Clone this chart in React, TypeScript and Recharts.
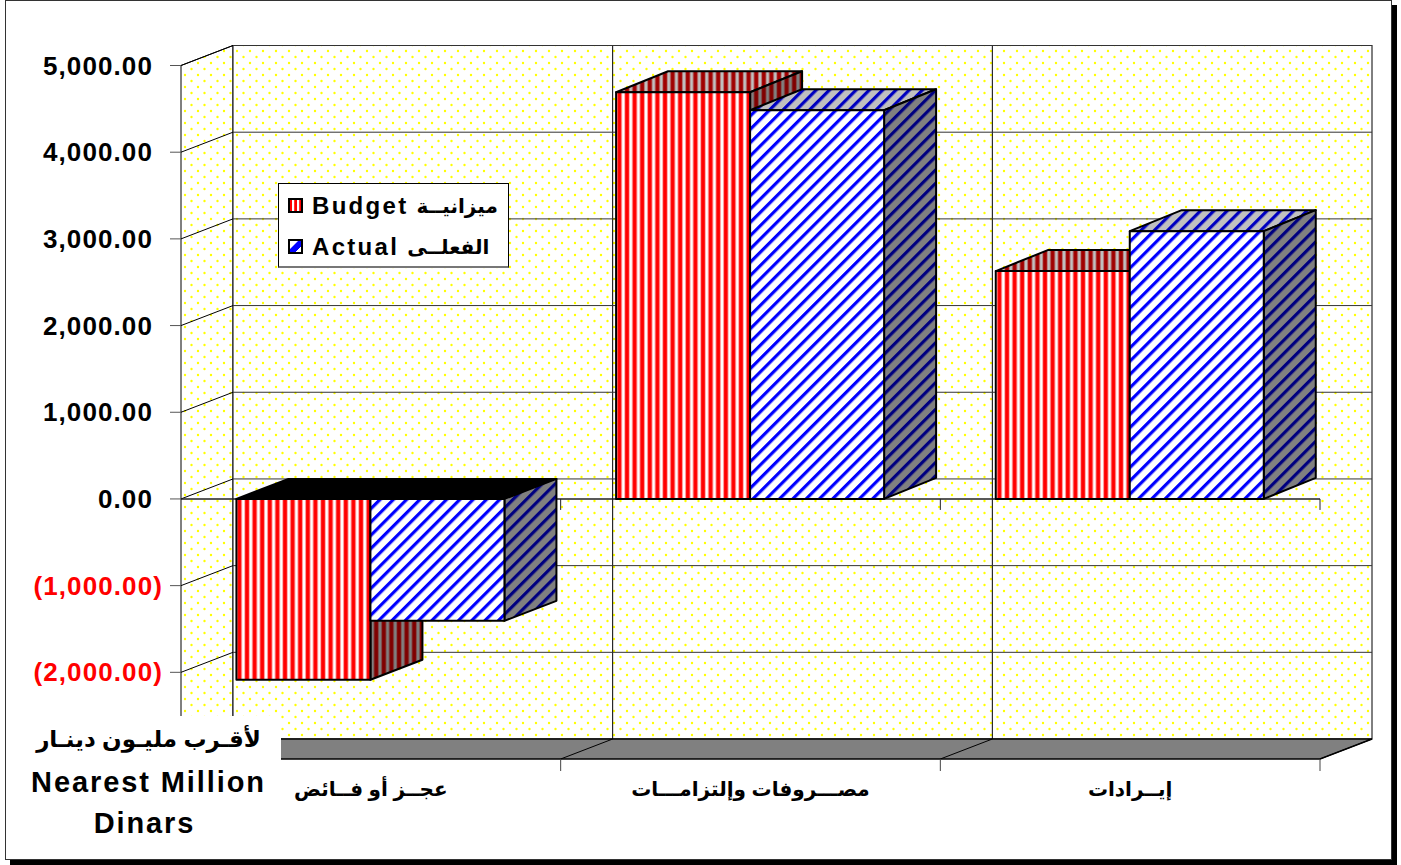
import React from 'react';
import { BarChart, Bar, XAxis, YAxis, Legend, ReferenceArea, ReferenceLine } from 'recharts';

const categories = ['عجــز أو فــائض', 'مصـــروفات وإلتزامـــات', 'إيــرادات'];
const budgetValues = [-2086, 4692, 2628];
const actualValues = [-1406, 4484, 3089];
const yTicks = [-2000, -1000, 0, 1000, 2000, 3000, 4000, 5000];
const budgetName = 'Budget ميزانيــة';
const actualName = 'Actual الفعلــى';
const seriesOrder = [budgetName, actualName];

const tableData = categories.map((name, i) => ({
  name,
  budget: budgetValues[i],
  actual: actualValues[i],
}));

const DEPTH_X = 52;
const DEPTH_Y = 20;
const BAR_DEPTH_Y = 21;
const FONT = '"Liberation Sans", "DejaVu Sans", Arial, sans-serif';

const formatTick = (value: number) => {
  const text = Math.abs(value).toLocaleString('en-US', {
    minimumFractionDigits: 2,
    maximumFractionDigits: 2,
  });
  return value < 0 ? `(${text})` : text;
};

// Walls, floor and the vertical lines, built from the plot area
const Backdrop = ({ x, y, width, height }: any) => {
  const bottom = y + height;
  const step = width / categories.length;
  const edges = [0, 1, 2, 3].map((i) => x + step * i);
  return (
    <g>
      <polygon
        points={`${x},${y} ${x + DEPTH_X},${y - DEPTH_Y} ${x + DEPTH_X},${bottom - DEPTH_Y} ${x},${bottom}`}
        fill="url(#wallDots)"
        stroke="#000"
      />
      <rect x={x + DEPTH_X} y={y - DEPTH_Y} width={width} height={height} fill="url(#wallDots)" stroke="#000" />
      {edges.slice(1, 3).map((edge) => (
        <line key={edge} x1={edge + DEPTH_X} x2={edge + DEPTH_X} y1={y - DEPTH_Y} y2={bottom - DEPTH_Y} stroke="#000" />
      ))}
      <polygon
        points={`${x},${bottom} ${x + DEPTH_X},${bottom - DEPTH_Y} ${x + width + DEPTH_X},${bottom - DEPTH_Y} ${x + width},${bottom}`}
        fill="#808080"
        stroke="#000"
        strokeWidth={1.5}
      />
      {edges.map((edge) => (
        <g key={edge}>
          <line x1={edge} x2={edge + DEPTH_X} y1={bottom} y2={bottom - DEPTH_Y} stroke="#000" />
          <line x1={edge} x2={edge} y1={bottom} y2={bottom + 12} stroke="#444" />
        </g>
      ))}
    </g>
  );
};

const GridLine = ({ x1, x2, y1 }: any) => {
  const isZero = Math.abs(y1 - 499) < 2;
  return (
    <g>
      <line x1={x1} x2={x1 + DEPTH_X} y1={y1} y2={y1 - DEPTH_Y} stroke="#000" />
      <line x1={x1 + DEPTH_X} x2={x2 + DEPTH_X} y1={y1 - DEPTH_Y} y2={y1 - DEPTH_Y} stroke="#333" />
      {isZero && (
        <g>
          <line x1={x1} x2={x2} y1={y1} y2={y1} stroke="#222" strokeWidth={1.5} />
          {[1, 2, 3].map((i) => {
            const tx = x1 + ((x2 - x1) * i) / categories.length;
            return <line key={i} x1={tx} x2={tx} y1={y1} y2={y1 + 11} stroke="#222" />;
          })}
        </g>
      )}
    </g>
  );
};

const makeBox = (prefix: string) => (props: any) => {
  const { x, y, width, height, value } = props;
  const top = Math.min(y, y + height);
  const h = Math.abs(height);
  const v = Array.isArray(value) ? value[1] : value;
  const negative = v < 0;
  const dy = negative ? DEPTH_Y : BAR_DEPTH_Y;
  return (
    <g stroke="#000" strokeWidth={2} strokeLinejoin="round">
      <polygon
        points={`${x},${top} ${x + DEPTH_X},${top - dy} ${x + width + DEPTH_X},${top - dy} ${x + width},${top}`}
        fill={negative ? '#000' : `url(#${prefix}Top)`}
      />
      <polygon
        points={`${x + width},${top} ${x + width + DEPTH_X},${top - dy} ${x + width + DEPTH_X},${top + h - dy} ${x + width},${top + h}`}
        fill={`url(#${prefix}Side)`}
      />
      <rect x={x} y={top} width={width} height={h} fill={`url(#${prefix}Front)`} />
    </g>
  );
};

const BudgetBox = makeBox('budget');
const ActualBox = makeBox('actual');

const YTick = ({ y, payload }: any) => (
  <text
    x={payload.value < 0 ? 163 : 153}
    y={y}
    dy={9}
    textAnchor="end"
    fontFamily={FONT}
    fontWeight="bold"
    fontSize={26}
    letterSpacing={1.1}
    fill={payload.value < 0 ? '#ff0000' : '#000'}
  >
    {formatTick(payload.value)}
  </text>
);

const XTick = ({ x, payload }: any) => (
  <text x={x} y={796} textAnchor="middle" fontFamily={FONT} fontWeight="bold" fontSize={20} fill="#000">
    {payload.value}
  </text>
);

const LegendBox = ({ payload }: any) => {
  const entries = [...(payload || [])].sort(
    (a: any, b: any) => seriesOrder.indexOf(a.value) - seriesOrder.indexOf(b.value),
  );
  return (
    <div
      style={{
        boxSizing: 'border-box',
        width: 231,
        height: 85,
        background: '#fff',
        border: '1.5px solid #000',
        borderBottom: '2px solid #777',
        paddingTop: 1,
      }}
    >
      {entries.map((entry: any) => {
        const [latin, arabic] = String(entry.value).split(' ');
        const prefix = latin === 'Budget' ? 'budget' : 'actual';
        return (
          <div
            key={latin}
            style={{ display: 'flex', alignItems: 'center', height: 41, paddingLeft: 9, fontFamily: FONT, fontWeight: 'bold', color: '#000' }}
          >
            <svg width={15} height={15} style={{ marginRight: 9, flex: 'none' }}>
              <rect x={1} y={1} width={13} height={13} fill={`url(#${prefix}Swatch)`} stroke="#000" strokeWidth={2} />
            </svg>
            <span style={{ fontSize: 24, letterSpacing: 2.3 }}>{latin}</span>
            <span style={{ fontSize: 20, marginLeft: 8 }} dir="rtl">{arabic}</span>
          </div>
        );
      })}
    </div>
  );
};

export default function App() {
  return (
    <div style={{ position: 'fixed', left: 0, top: 0, width: 1401, height: 865, background: '#fff', overflow: 'hidden' }}>
      <div
        style={{
          position: 'absolute',
          left: 5,
          top: 0,
          width: 1387,
          height: 860,
          boxSizing: 'border-box',
          border: '1.5px solid #333',
          boxShadow: '5px 5px 0 #000',
          background: '#fff',
        }}
      />
      <div style={{ position: 'absolute', left: 0, top: 0 }}>
        <BarChart
          width={1401}
          height={865}
          data={tableData}
          margin={{ top: 65.5, right: 81, bottom: 46, left: 0 }}
          barCategoryGap="14.6%"
          barGap={0}
        >
          <defs>
            <pattern id="wallDots" width={13} height={12} patternUnits="userSpaceOnUse">
              <rect width={13} height={12} fill="#fff" />
              <circle cx={3} cy={3} r={1.2} fill="#ffff00" />
              <circle cx={9.5} cy={9} r={1.2} fill="#ffff00" />
            </pattern>
            {[
              ['budgetFront', '#fff', '#ff0000'],
              ['budgetSide', '#808080', '#800000'],
              ['budgetTop', '#c0c0c0', '#a00000'],
            ].map(([id, base, stripe]) => (
              <pattern key={id} id={id} width={7.6} height={8} patternUnits="userSpaceOnUse">
                <rect width={7.6} height={8} fill={base} />
                <rect x={1} width={5.6} height={8} fill={stripe} opacity={0.35} />
                <rect x={2} width={3.6} height={8} fill={stripe} />
              </pattern>
            ))}
            {[
              ['actualFront', '#fff', '#0000ff'],
              ['actualSide', '#808080', '#000080'],
              ['actualTop', '#c0c0c0', '#0000c0'],
            ].map(([id, base, stripe]) => (
              <pattern key={id} id={id} width={9.4} height={9.4} patternUnits="userSpaceOnUse" patternTransform="rotate(-45)">
                <rect width={9.4} height={9.4} fill={base} />
                <rect width={9.4} height={3.2} fill={stripe} />
              </pattern>
            ))}
            <pattern id="budgetSwatch" width={13} height={13} x={1} y={1} patternUnits="userSpaceOnUse">
              <rect width={13} height={13} fill="#ff0000" />
              <rect x={3} width={2.2} height={13} fill="#fff" />
              <rect x={8} width={2.2} height={13} fill="#fff" />
            </pattern>
            <linearGradient id="actualSwatch" x1="0" y1="0" x2="1" y2="1">
              <stop offset="0.38" stopColor="#fff" />
              <stop offset="0.39" stopColor="#0000ff" />
              <stop offset="0.72" stopColor="#0000ff" />
              <stop offset="0.73" stopColor="#fff" />
            </linearGradient>
          </defs>
          <ReferenceArea y1={-3000} y2={5000} shape={Backdrop} ifOverflow="visible" zIndex={-200} />
          {yTicks.map((t) => (
            <ReferenceLine key={t} y={t} shape={GridLine} ifOverflow="visible" zIndex={-100} />
          ))}
          <XAxis dataKey="name" axisLine={false} tickLine={false} tick={XTick} height={60} interval={0} />
          <YAxis
            domain={[-3000, 5000]}
            ticks={yTicks}
            width={181}
            axisLine={false}
            tickSize={11}
            tickLine={{ stroke: '#555' }}
            tick={YTick}
            interval={0}
          />
          <Legend
            layout="vertical"
            align="center"
            verticalAlign="middle"
            content={LegendBox}
            wrapperStyle={{ left: 278, top: 183, width: 231 }}
          />
          <Bar dataKey="budget" name={budgetName} fill="#ff0000" shape={BudgetBox} isAnimationActive={false} />
          <Bar dataKey="actual" name={actualName} fill="#0000ff" shape={ActualBox} isAnimationActive={false} />
        </BarChart>
      </div>
      <div
        style={{
          position: 'absolute',
          left: 8,
          top: 716,
          width: 273,
          height: 128,
          background: '#fff',
          textAlign: 'center',
          fontFamily: FONT,
          fontWeight: 'bold',
          color: '#000',
        }}
      >
        <div style={{ fontSize: 23, lineHeight: '46px', position: 'relative', left: 4 }} dir="rtl">لأقـرب مليـون دينـار</div>
        <div style={{ fontSize: 29, lineHeight: '41px', letterSpacing: 1.9, position: 'relative', left: 4 }}>Nearest Million</div>
        <div style={{ fontSize: 29, lineHeight: '41px', letterSpacing: 1.9 }}>Dinars</div>
      </div>
    </div>
  );
}
